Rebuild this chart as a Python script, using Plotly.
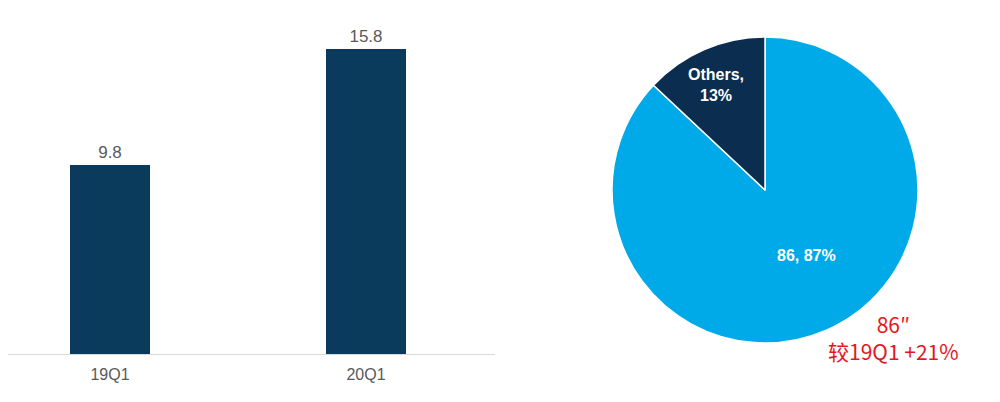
import plotly.graph_objects as go

# Data
quarters = ["19Q1", "20Q1"]
bar_values = [9.8, 15.8]

pie_labels = ["86", "Others"]
pie_values = [87, 13]
pie_text = ["86, 87%", "Others,<br>13%"]

note_lines = ["86″", "较19Q1 +21%"]

NAVY_BAR = "#0a3a5c"
NAVY_PIE = "#0b2d4f"
LIGHT_BLUE = "#00aae8"
GRAY = "#595959"

# page body has an 8px margin; figure coordinates are offset accordingly
W, H = 992, 394
OFF = 8


def px_x(x):
    return (x - OFF) / W


def px_y(y):
    return (H - (y - OFF)) / H


fig = go.Figure()

fig.add_trace(go.Bar(
    x=quarters, y=bar_values,
    marker=dict(color=NAVY_BAR, line=dict(width=0)),
    width=0.3125,
    text=[f"{v}" for v in bar_values],
    textposition="outside",
    textfont=dict(family="Liberation Sans, Arial, sans-serif", size=17, color=GRAY),
    cliponaxis=False,
    showlegend=False,
))

fig.add_trace(go.Pie(
    labels=pie_labels, values=pie_values,
    textinfo="none",
    sort=False, direction="clockwise", rotation=0,
    marker=dict(colors=[LIGHT_BLUE, NAVY_PIE], line=dict(color="white", width=1.5)),
    domain=dict(x=[px_x(612), px_x(918)], y=[px_y(343), px_y(37)]),
    showlegend=False,
    hoverinfo="label+percent",
))

# slice labels
pie_label_pos = [(806, 255), (716, 85)]
for t, (px, py) in zip(pie_text, pie_label_pos):
    fig.add_annotation(
        x=px_x(px), y=px_y(py), xref="paper", yref="paper",
        text=t, showarrow=False, xanchor="center", yanchor="middle",
        font=dict(family="Liberation Sans, Arial, sans-serif", size=16, color="white", weight="bold"),
    )

# red note
fig.add_annotation(
    x=px_x(893), y=px_y(337), xref="paper", yref="paper",
    text="<br>".join(note_lines), showarrow=False,
    xanchor="center", yanchor="middle", align="center",
    font=dict(family="Noto Sans CJK SC, sans-serif", size=21, color="#e5161d"),
)

baseline = 354 - OFF
px_per_unit = 19.3
fig.update_layout(
    width=W, height=H,
    margin=dict(l=0, r=0, t=0, b=0),
    paper_bgcolor="white", plot_bgcolor="white",
    bargap=0,
    xaxis=dict(
        domain=[0, (495 - OFF) / W],
        range=[-(110 - OFF) / 256, (495 - 110) / 256],
        type="category",
        showline=True, linecolor="#d9d9d9", linewidth=1,
        showgrid=False, zeroline=False, ticks="",
        tickfont=dict(family="Liberation Sans, Arial, sans-serif", size=16, color=GRAY),
        ticklabelstandoff=6,
    ),
    yaxis=dict(
        domain=[(H - baseline) / H, 1], range=[0, baseline / px_per_unit],
        visible=False, showgrid=False, zeroline=False,
    ),
)

fig.write_html("out.html")
